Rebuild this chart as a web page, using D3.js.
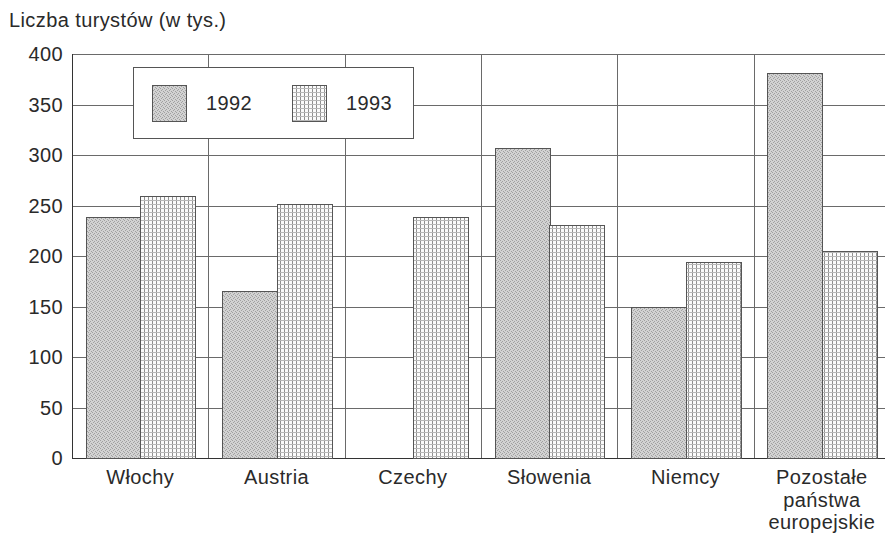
<!DOCTYPE html>
<html lang="pl">
<head>
<meta charset="UTF-8">
<title>Liczba turystów</title>
<script src="https://d3js.org/d3.v7.min.js"></script>
<style>
  body { margin: 0; background: #fff; }
  svg { display: block; font-family: "Liberation Sans", Arial, sans-serif; }
</style>
</head>
<body>
<script>
// data
var categories = [["Włochy"], ["Austria"], ["Czechy"], ["Słowenia"], ["Niemcy"], ["Pozostałe", "państwa", "europejskie"]];
var years = ["1992", "1993"];
var values1992 = [239, 165, 0, 307, 150, 381];
var values1993 = [259, 251, 239, 231, 194, 205];
var yTicks = [0, 50, 100, 150, 200, 250, 300, 350, 400];

var w = 885, h = 535;
var mLeft = 72, mRight = 890, mTop = 54, mBottom = 458;
var fontSize = 20;
var textColor = "#2a2a2a";

var svg = d3.select("body").append("svg")
    .attr("width", w)
    .attr("height", h);

// fill patterns: stipple for 1992, fine grid for 1993
var defs = svg.append("defs");
var p1 = defs.append("pattern").attr("id", "dots")
    .attr("patternUnits", "userSpaceOnUse").attr("width", 4).attr("height", 4);
p1.append("rect").attr("width", 4).attr("height", 4).attr("fill", "#d2d2d2");
[[0, 0], [2, 1], [1, 2], [3, 3]].forEach(function(d) {
    p1.append("rect").attr("x", d[0]).attr("y", d[1]).attr("width", 1).attr("height", 1).attr("fill", "#a0a0a0");
});
var p2 = defs.append("pattern").attr("id", "grid")
    .attr("patternUnits", "userSpaceOnUse").attr("width", 4).attr("height", 4);
p2.append("rect").attr("width", 4).attr("height", 4).attr("fill", "#fbfbfb");
p2.append("rect").attr("x", 0).attr("y", 0).attr("width", 1).attr("height", 4).attr("fill", "#909090");
p2.append("rect").attr("x", 0).attr("y", 0).attr("width", 4).attr("height", 1).attr("fill", "#b8b8b8");
var fills = ["url(#dots)", "url(#grid)"];

var x = d3.scaleBand()
    .domain(d3.range(categories.length))
    .range([mLeft, mRight]);
var xs = d3.scaleBand()
    .domain(years)
    .range([0, x.bandwidth()])
    .paddingOuter(0.25);
var y = d3.scaleLinear().domain([0, 400]).range([mBottom, mTop]);

// horizontal grid
svg.append("g").selectAll("line")
    .data(yTicks)
    .enter().append("line")
    .attr("x1", mLeft).attr("x2", mRight)
    .attr("y1", function(d) { return Math.round(y(d)) + 0.5; })
    .attr("y2", function(d) { return Math.round(y(d)) + 0.5; })
    .attr("stroke", function(d) { return d === 0 ? "#333" : "#6a6a6a"; })
    .attr("stroke-width", 1);

// vertical grid at category boundaries
svg.append("g").selectAll("line")
    .data(d3.range(categories.length + 1))
    .enter().append("line")
    .attr("x1", function(i) { return Math.round(i < categories.length ? x(i) : mRight) + 0.5; })
    .attr("x2", function(i) { return Math.round(i < categories.length ? x(i) : mRight) + 0.5; })
    .attr("y1", mTop).attr("y2", mBottom)
    .attr("stroke", function(i) { return i === 0 ? "#333" : "#6a6a6a"; })
    .attr("stroke-width", 1);

// y tick labels
svg.append("g").selectAll("text")
    .data(yTicks)
    .enter().append("text")
    .attr("x", 63)
    .attr("y", function(d) { return y(d); })
    .attr("dy", "0.36em")
    .attr("text-anchor", "end")
    .attr("font-size", fontSize)
    .attr("letter-spacing", 0.4)
    .attr("fill", textColor)
    .text(function(d) { return d; });

// title
svg.append("text")
    .attr("x", 9).attr("y", 27)
    .attr("font-size", fontSize)
    .attr("letter-spacing", 0.4)
    .attr("fill", textColor)
    .text("Liczba turystów (w tys.)");

// bars
var series = [values1992, values1993];
series.forEach(function(vals, si) {
    var rows = vals.map(function(v, i) { return { i: i, v: v }; })
        .filter(function(d) { return d.v > 0; });
    svg.append("g").selectAll("rect")
        .data(rows)
        .enter().append("rect")
        .attr("x", function(d) { return Math.round(x(d.i) + xs(years[si])) + 0.5; })
        .attr("y", function(d) { return Math.round(y(d.v)) + 0.5; })
        .attr("width", Math.round(xs.bandwidth()))
        .attr("height", function(d) { return mBottom - Math.round(y(d.v)); })
        .attr("fill", fills[si])
        .attr("stroke", "#555")
        .attr("stroke-width", 1);
});

// category labels
var cl = svg.append("g").selectAll("text")
    .data(categories)
    .enter().append("text")
    .attr("text-anchor", "middle")
    .attr("font-size", fontSize)
    .attr("letter-spacing", 0.4)
    .attr("fill", textColor);
cl.each(function(lines, i) {
    d3.select(this).selectAll("tspan")
        .data(lines)
        .enter().append("tspan")
        .attr("x", x(i) + x.bandwidth() / 2)
        .attr("y", function(d, j) { return 484 + j * 22.5; })
        .text(function(d) { return d; });
});

// legend
var lg = svg.append("g");
lg.append("rect")
    .attr("x", 133.5).attr("y", 67.5)
    .attr("width", 280).attr("height", 71)
    .attr("fill", "#fff").attr("stroke", "#555");
years.forEach(function(yr, i) {
    lg.append("rect")
        .attr("x", 152.5 + i * 140).attr("y", 85.5)
        .attr("width", 34).attr("height", 36)
        .attr("fill", fills[i]).attr("stroke", "#555");
    lg.append("text")
        .attr("x", 206 + i * 140).attr("y", 103)
        .attr("dy", "0.36em")
        .attr("font-size", fontSize)
        .attr("letter-spacing", 0.4)
        .attr("fill", textColor)
        .text(yr);
});
</script>
</body>
</html>
